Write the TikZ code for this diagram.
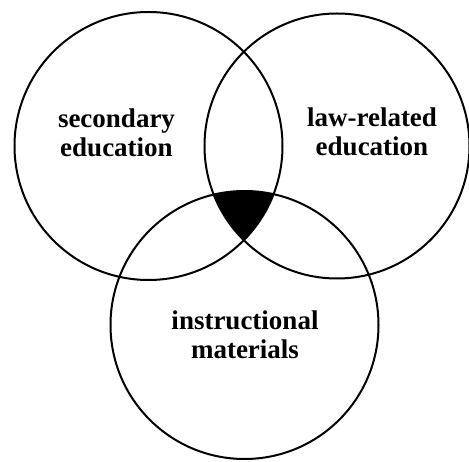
\documentclass[tikz,border=0pt]{standalone}
\usepackage{fontspec}
\setmainfont{Liberation Serif}
\begin{document}
\begin{tikzpicture}[x=1pt,y=1pt,
  ring/.style={circle, draw=black, line width=2pt, inner sep=0pt},
  vtext/.style={align=center, font=\fontsize{27}{29}\selectfont\bfseries, inner sep=0pt}]
\useasboundingbox (0,0) rectangle (469,461);
% triple intersection
\begin{scope}
  \clip (148.5,315) circle (134);
  \clip (337,315) circle (132.5);
  \fill[black] (244.5,136) circle (134);
\end{scope}
\node[ring, minimum size=268pt] (sec) at (148.5,315) {};
\node[ring, minimum size=265pt] (law) at (337,315) {};
\node[ring, minimum size=268pt] (ins) at (244.5,136) {};
\node[vtext] (tsec) at (116.5,328.5) {secondary\\education};
\node[vtext] (tlaw) at (372,329) {law-related\\education};
\node[vtext] (tins) at (245,126.5) {instructional\\materials};
\end{tikzpicture}
\end{document}
